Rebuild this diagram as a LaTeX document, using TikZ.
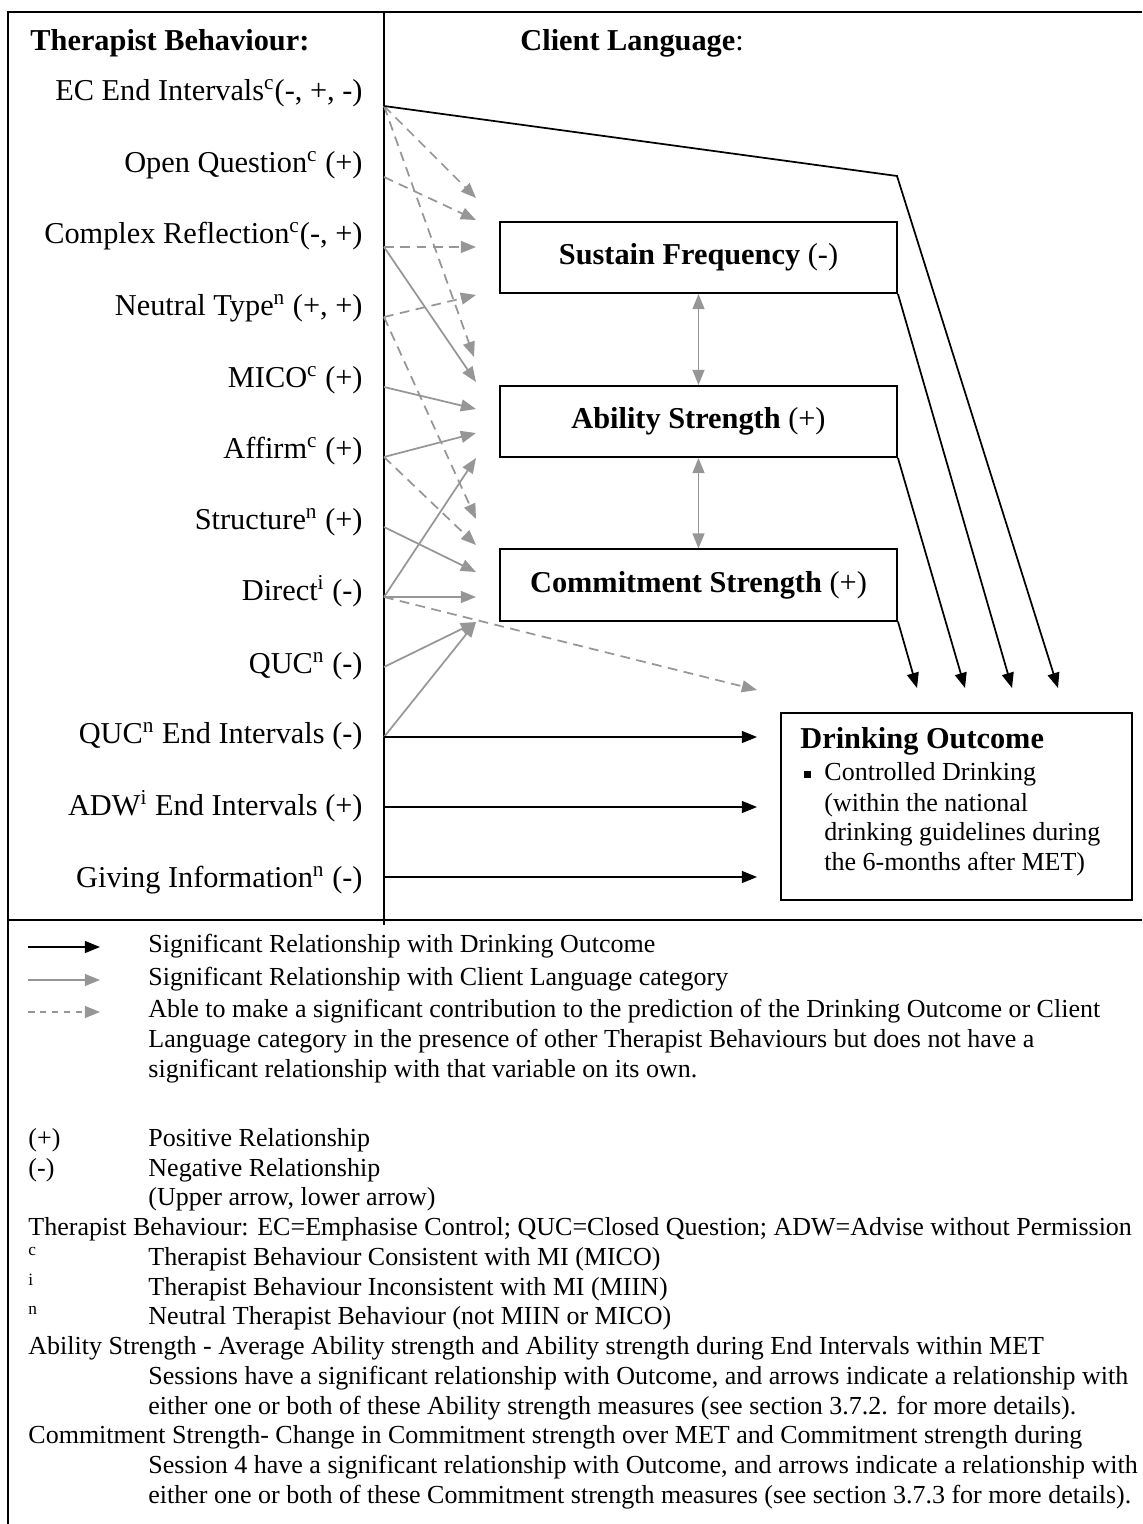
\documentclass[tikz,border=0pt]{standalone}
\usepackage{fontspec}
\setmainfont{Liberation Serif}
\usetikzlibrary{arrows.meta,positioning}
\definecolor{arrgrey}{RGB}{150,150,150}

\tikzset{
  lbl/.style={anchor=east,inner sep=0pt,text height=0.75em,text depth=0.25em,font=\fontsize{14}{16}\selectfont},
  leg/.style={anchor=west,inner sep=0pt,text height=0.75em,text depth=0.25em,font=\fontsize{12}{14}\selectfont},
  clbox/.style={draw,line width=0.9pt,minimum width=183.2pt,minimum height=32.8pt,inner sep=0pt,font=\fontsize{14}{16}\selectfont}
}

\begin{document}
\begin{tikzpicture}[x=0.4615pt,y=-0.4615pt,
  blk/.style={-{Triangle[length=7pt,width=5.5pt]},line width=0.8pt},
  gry/.style={-{Triangle[length=7pt,width=5.5pt]},line width=0.8pt,arrgrey},
  gdash/.style={gry,dash pattern=on 4.5pt off 3pt}]

\useasboundingbox (0,0) rectangle (1142,1524);

% frame
\draw[line width=1.3pt] (8,1524) -- (8,12) -- (1142,12);
\draw[line width=1pt] (384,12) -- (384,925);
\draw[line width=1pt] (8,920) -- (1142,920);

% headings
\node[anchor=west,inner sep=0pt,font=\fontsize{14}{16}\selectfont] (tbhead) at (30,43) {\textbf{Therapist Behaviour:}};
\node[anchor=west,inner sep=0pt,font=\fontsize{14}{16}\selectfont] (clhead) at (520,43) {\textbf{Client Language}:};

% therapist behaviours
\node[lbl] (ecl) at (363,95) {EC End Intervals\textsuperscript{c}(-, +, -)};
\node[lbl] (oql) at (363,167) {Open Question\textsuperscript{c} (+)};
\node[lbl] (crl) at (363,238) {Complex Reflection\textsuperscript{c}(-, +)};
\node[lbl] (ntl) at (363,310) {Neutral Type\textsuperscript{n} (+, +)};
\node[lbl] (micol) at (363,382) {MICO\textsuperscript{c} (+)};
\node[lbl] (affl) at (363,453) {Affirm\textsuperscript{c} (+)};
\node[lbl] (strl) at (363,524) {Structure\textsuperscript{n} (+)};
\node[lbl] (dirl) at (363,595) {Direct\textsuperscript{i} (-)};
\node[lbl] (qucl) at (363,668) {QUC\textsuperscript{n} (-)};
\node[lbl] (qucel) at (363,738) {QUC\textsuperscript{n} End Intervals (-)};
\node[lbl] (adwl) at (363,810) {ADW\textsuperscript{i} End Intervals (+)};
\node[lbl] (gil) at (363,882) {Giving Information\textsuperscript{n} (-)};

\coordinate (ec) at (384,106);
\coordinate (oq) at (384,177);
\coordinate (cr) at (384,247);
\coordinate (nt) at (384,317);
\coordinate (mico) at (384,387);
\coordinate (aff) at (384,457);
\coordinate (str) at (384,527);
\coordinate (dir) at (384,597);
\coordinate (quc) at (384,667);
\coordinate (quce) at (384,737);
\coordinate (adw) at (384,807);
\coordinate (gi) at (384,877);

% client language boxes
\node[clbox] (sus) at (698.5,257.5) {\textbf{Sustain Frequency} (-)};
\node[clbox] (abl) at (698.5,421.5) {\textbf{Ability Strength} (+)};
\node[clbox] (com) at (698.5,585) {\textbf{Commitment Strength} (+)};

% drinking outcome
\node[draw,line width=0.9pt,minimum width=162pt,minimum height=86.3pt,inner sep=0pt] (out) at (956.5,806.5) {};
\node[anchor=west,inner sep=0pt,text height=0.75em,text depth=0.25em,font=\fontsize{14}{16}\selectfont] (outt) at (800,743) {\textbf{Drinking Outcome}};
\fill (803.5,770.5) rectangle (810.5,777.5);
\node[leg] (outa) at (824,775) {Controlled Drinking};
\node[leg] (outb) at (824,806) {(within the national};
\node[leg] (outc) at (824,835) {drinking guidelines during};
\node[leg] (outd) at (824,865) {the 6-months after MET)};

% arrow ends
\coordinate (h1) at (476,198);
\coordinate (h2) at (476,220);
\coordinate (h3) at (476,247);
\coordinate (h4) at (476,295);
\coordinate (h5) at (474,357);
\coordinate (h6) at (476,382);
\coordinate (h7) at (476,409);
\coordinate (h8) at (476,433);
\coordinate (h9) at (476,458);
\coordinate (h10) at (476,519);
\coordinate (h11) at (476,545);
\coordinate (h12) at (476,572);
\coordinate (h13) at (476,597);
\coordinate (h14) at (476,622);
\coordinate (bend) at (897,176);
\coordinate (o1) at (917,688);
\coordinate (o2) at (965,688);
\coordinate (o3) at (1012,688);
\coordinate (o4) at (1058,688);
\coordinate (o5) at (757,690);
\coordinate (g1) at (757,737);
\coordinate (g2) at (757,807);
\coordinate (g3) at (757,877);

% dashed: contribution only
\draw[gdash] (ec) -- (h1);
\draw[gdash] (ec) -- (h5);
\draw[gdash] (oq) -- (h2);
\draw[gdash] (cr) -- (h3);
\draw[gdash] (nt) -- (h4);
\draw[gdash] (nt) -- (h10);
\draw[gdash] (aff) -- (h11);
\draw[gdash] (dir) -- (o5);

% grey: client language
\draw[gry] (cr) -- (h6);
\draw[gry] (mico) -- (h7);
\draw[gry] (aff) -- (h8);
\draw[gry] (str) -- (h12);
\draw[gry] (dir) -- (h9);
\draw[gry] (dir) -- (h13);
\draw[gry] (quc) -- (h14);
\draw[gry] (quce) -- (h14);

\draw[gry,{Triangle[length=7pt,width=5.5pt]}-{Triangle[length=7pt,width=5.5pt]}] (sus.south) -- (abl.north);
\draw[gry,{Triangle[length=7pt,width=5.5pt]}-{Triangle[length=7pt,width=5.5pt]}] (abl.south) -- (com.north);

% black: drinking outcome
\draw[blk] (ec) -- (bend) -- (o4);
\draw[blk] (sus.south east) -- (o3);
\draw[blk] (abl.south east) -- (o2);
\draw[blk] (com.south east) -- (o1);
\draw[blk] (quce) -- (g1);
\draw[blk] (adw) -- (g2);
\draw[blk] (gi) -- (g3);

% key
\coordinate (k1a) at (28,947);
\coordinate (k1b) at (100,947);
\coordinate (k2a) at (28,980);
\coordinate (k2b) at (100,980);
\coordinate (k3a) at (28,1012);
\coordinate (k3b) at (100,1012);
\draw[blk] (k1a) -- (k1b);
\draw[gry] (k2a) -- (k2b);
\draw[gdash,dash pattern=on 3pt off 2.5pt] (k3a) -- (k3b);
\node[leg] (key1) at (148,947) {Significant Relationship with Drinking Outcome};
\node[leg] (key2) at (148,980) {Significant Relationship with Client Language category};
\node[leg] (key3) at (148,1012) {Able to make a significant contribution to the prediction of the Drinking Outcome or Client};
\node[leg] (key3b) at (148,1042) {Language category in the presence of other Therapist Behaviours but does not have a};
\node[leg] (key3c) at (148,1072) {significant relationship with that variable on its own.};

\node[leg] (plus) at (28,1141) {(+)};
\node[leg] (plust) at (148,1141) {Positive Relationship};
\node[leg] (minus) at (28,1171) {(-)};
\node[leg] (minust) at (148,1171) {Negative Relationship};
\node[leg] (updown) at (148,1200) {(Upper arrow, lower arrow)};
\node[leg] (abbr) at (28,1230) {Therapist Behaviour: EC=Emphasise Control; QUC=Closed Question; ADW=Advise without Permission};
\node[leg] (supc) at (28,1260) {\textsuperscript{c}};
\node[leg] (supct) at (148,1260) {Therapist Behaviour Consistent with MI (MICO)};
\node[leg] (supi) at (28,1290) {\textsuperscript{i}};
\node[leg] (supit) at (148,1290) {Therapist Behaviour Inconsistent with MI (MIIN)};
\node[leg] (supn) at (28,1319) {\textsuperscript{n}};
\node[leg] (supnt) at (148,1319) {Neutral Therapist Behaviour (not MIIN or MICO)};
\node[leg] (abla) at (28,1349) {Ability Strength - Average Ability strength and Ability strength during End Intervals within MET};
\node[leg] (ablb) at (148,1379) {Sessions have a significant relationship with Outcome, and arrows indicate a relationship with};
\node[leg] (ablc) at (148,1409) {either one or both of these Ability strength measures (see section 3.7.2. for more details).};
\node[leg] (coma) at (28,1438) {Commitment Strength- Change in Commitment strength over MET and Commitment strength during};
\node[leg] (comb) at (148,1468) {Session 4 have a significant relationship with Outcome, and arrows indicate a relationship with};
\node[leg] (comc) at (148,1498) {either one or both of these Commitment strength measures (see section 3.7.3 for more details).};
\end{tikzpicture}
\end{document}
